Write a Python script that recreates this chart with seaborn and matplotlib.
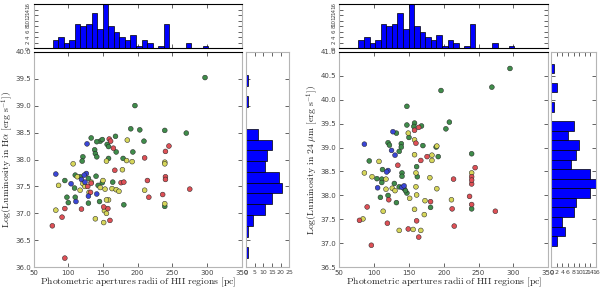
import numpy as np
import pandas as pd
import matplotlib
matplotlib.use("Agg")
import matplotlib.pyplot as plt
import seaborn as sns

sns.set_style("white")
plt.rcParams['mathtext.fontset'] = 'cm'
plt.rcParams['font.family'] = ['DejaVu Sans']

# ---------- data: H-alpha panel ----------
ha_radius = [297, 196, 190, 203, 239, 270, 209, 168, 133, 146, 149, 141, 156, 158, 138, 139, 141, 121, 169, 158,
             193, 179, 120, 110, 117, 140, 129, 95, 143, 164, 149, 109, 98, 110, 100, 145, 129, 180, 239,
             185, 107, 155, 184, 192, 178, 239, 113, 86, 121, 133, 150, 163, 169, 173, 153, 117, 130, 210, 158,
             155, 82, 152, 155, 139, 151, 239, 239, 124, 146,
             245, 240, 159, 165, 210, 167, 240, 240, 214, 176, 180, 275, 216, 236, 133, 132, 157, 151, 95, 119,
             91, 77, 160, 95, 161, 128,
             127, 82, 104, 126, 123, 119, 129, 141, 111, 124]
ha_lum = [39.52, 39.00, 38.57, 38.55, 38.54, 38.49, 38.34, 38.43, 38.40, 38.34, 38.37, 38.33, 38.28, 38.24, 38.18,
          38.11, 38.05, 38.05, 38.14, 38.02, 38.14, 38.02, 37.97, 37.71, 37.68, 37.69, 37.65, 37.61, 37.52, 37.58,
          37.57, 37.47, 37.30, 37.30, 37.20, 37.22, 37.19, 37.16, 37.13,
          38.36, 37.92, 37.97, 37.98, 37.96, 37.81, 37.95, 37.68, 37.52, 37.55, 37.58, 37.61, 37.46, 37.44, 37.41,
          37.45, 37.43, 37.39, 37.43, 37.25, 37.25, 37.06, 37.05, 37.00, 36.90, 36.83, 37.18, 37.92, 37.50, 37.48,
          38.25, 38.15, 38.38, 38.21, 38.03, 37.80, 37.68, 37.63, 37.61, 37.57, 37.58, 37.45, 37.30, 37.35, 37.56,
          37.39, 37.09, 37.12, 37.09, 37.08, 36.93, 36.77, 36.87, 36.17, 38.34, 37.50,
          38.29, 37.73, 37.55, 37.74, 37.71, 37.63, 37.32, 37.36, 37.22, 37.58]
ha_group = ['g'] * 39 + ['y'] * 30 + ['r'] * 26 + ['b'] * 10

# ---------- data: 24 micron panel ----------
ir_radius = [295, 269, 196, 147, 208, 203, 158, 147, 168, 157, 132, 150, 120, 122, 139, 139, 170, 136, 189, 192,
             240, 93, 112, 140, 140, 162, 104, 111, 111, 129, 120, 109, 132, 136, 143, 147, 181, 240, 161, 145,
             149, 158, 158, 190, 183, 183, 107, 86, 97, 117, 117, 160, 180, 160, 190, 151, 173, 211, 240, 113,
             158, 172, 84, 136, 156, 167, 161, 126, 130,
             164, 158, 160, 176, 167, 134, 245, 214, 240, 240, 240, 181, 121, 237, 240, 212, 274, 90, 79, 119,
             161, 149, 164, 215, 96,
             127, 86, 125, 130, 120, 118, 105, 140, 143]
ir_lum = [40.65, 40.26, 40.19, 39.86, 39.53, 39.39, 39.51, 39.47, 39.45, 39.44, 39.30, 39.21, 39.10, 39.05, 39.08,
          39.01, 39.04, 38.92, 39.01, 38.81, 38.87, 38.72, 38.54, 38.47, 38.40, 38.39, 38.35, 38.34, 38.27, 38.25,
          38.00, 37.96, 37.85, 38.18, 38.14, 38.05, 37.75, 37.72, 38.60, 38.10,
          39.30, 39.16, 38.85, 39.03, 38.84, 38.73, 38.71, 38.47, 38.39, 38.34, 38.13, 38.47, 38.37, 38.18, 38.14,
          37.94, 37.89, 37.91, 38.47, 37.67, 37.71, 37.60, 37.51, 37.27, 37.29, 37.27, 38.01, 38.15, 38.10,
          39.42, 39.36, 39.09, 38.81, 38.73, 38.63, 38.58, 38.34, 38.39, 38.24, 38.32, 37.87, 37.91, 37.98, 37.81,
          37.72, 37.67, 37.76, 37.48, 37.42, 37.47, 37.30, 37.13, 37.36, 36.96,
          39.33, 39.07, 38.94, 38.84, 38.52, 38.49, 38.16, 38.17, 38.20]
ir_group = ['g'] * 40 + ['y'] * 29 + ['r'] * 25 + ['b'] * 9

# ---------- histogram counts ----------
radius_bin_start, radius_bin_width = 77.5, 8.0
radius_counts = [3, 4, 2, 3, 9, 8, 9, 13, 7, 16, 8, 6, 4, 3, 5, 1, 3, 2, 0, 1, 9, 0, 0, 0, 2, 0, 0, 1]

ha_bin_start, ha_bin_width = 36.17, 0.2
ha_counts = [1, 0, 1, 4, 11, 15, 21, 19, 11, 12, 15, 7, 0, 0, 1, 0, 1]

ir_bin_start, ir_bin_width = 36.95, 0.2
ir_counts = [2, 5, 4, 8, 9, 14, 16, 14, 7, 9, 10, 6, 8, 0, 1, 0, 2, 0, 1]

palette = {'g': '#3f8c4a', 'y': '#d6d65a', 'r': '#de5056', 'b': '#3a46d6'}
GRAY = '#b5b5b5'
xlabel = r'$\mathrm{Photometric\ apertures\ radii\ of\ HII\ regions\ [pc]}$'


def style_ax(ax):
    for s in ax.spines.values():
        s.set_color(GRAY)
        s.set_linewidth(0.8)
    ax.tick_params(direction='in', length=3, width=0.5, labelsize=5, labelcolor='#444444',
                   top=True, right=True, bottom=True, left=True, pad=2)


def hist_frame(start, width, counts):
    e = start + width * np.arange(len(counts) + 1)
    df = pd.DataFrame({'center': (e[:-1] + e[1:]) / 2, 'count': np.asarray(counts, dtype=float)})
    return df, list(e)


def panel(x0, sc_w, side_x0, side_w, radius, lum, group, side_start, side_width, side_counts,
          ylim, side_xlim, side_xticks, ylabel):
    y0, h = 0.0783, 0.7434
    ax = fig.add_axes([x0, y0, sc_w, h])
    ax_top = fig.add_axes([x0, 0.8334, sc_w, 0.1517])
    ax_side = fig.add_axes([side_x0, y0, side_w, h])

    df = pd.DataFrame({'radius': radius, 'lum': lum, 'group': group})
    sns.scatterplot(data=df, x='radius', y='lum', hue='group', palette=palette, s=12,
                    edgecolor='#222222', linewidth=0.35, legend=False, ax=ax, zorder=3)
    style_ax(ax)
    ax.spines['top'].set_color('black')
    ax.set_xlim(50, 350)
    ax.set_xticks(np.arange(50, 351, 50))
    yt = np.arange(ylim[0], ylim[1] + 0.01, 0.5)
    ax.set_ylim(*ylim)
    ax.set_yticks(yt)
    ax.set_yticklabels([f'{v:.1f}' for v in yt])
    ax.set_xlabel(xlabel, fontsize=7, labelpad=0)
    ax.set_ylabel(ylabel, fontsize=7)
    ax.yaxis.set_label_coords(-0.09, 0.5)

    tdf, t_edges = hist_frame(radius_bin_start, radius_bin_width, radius_counts)
    sns.histplot(data=tdf, x='center', weights='count', bins=t_edges, ax=ax_top,
                 color='#0000ff', edgecolor='black', linewidth=0.5, alpha=1)
    style_ax(ax_top)
    ax_top.spines['top'].set_color('black')
    ax_top.spines['bottom'].set_color('black')
    ax_top.set_xlim(50, 350)
    ax_top.set_xticks(np.arange(50, 351, 50))
    ax_top.set_xticklabels([])
    ax_top.set_ylim(0, 16)
    ax_top.set_yticks(np.arange(0, 17, 2))
    ax_top.tick_params(axis='y', labelrotation=90, labelsize=4)
    ax_top.set_xlabel('')
    ax_top.set_ylabel('')

    sdf, s_edges = hist_frame(side_start, side_width, side_counts)
    sns.histplot(data=sdf, y='center', weights='count', bins=s_edges, ax=ax_side,
                 color='#0000ff', edgecolor='black', linewidth=0.5, alpha=1)
    style_ax(ax_side)
    ax_side.set_ylim(*ylim)
    ax_side.set_yticks(yt)
    ax_side.set_yticklabels([])
    ax_side.set_xlim(*side_xlim)
    ax_side.set_xticks(side_xticks)
    ax_side.tick_params(axis='x', labelsize=4.5)
    ax_side.set_xlabel('')
    ax_side.set_ylabel('')


fig = plt.figure(figsize=(6, 2.9), dpi=100)

panel(0.056, 0.347, 0.41, 0.0722, ha_radius, ha_lum, ha_group, ha_bin_start, ha_bin_width, ha_counts,
      (36.0, 40.0), (0, 25), np.arange(0, 26, 5),
      r'$\mathrm{Log(Luminosity\ in\ H\alpha\ [erg\ s^{-1}])}$')
panel(0.5655, 0.3483, 0.9188, 0.0745, ir_radius, ir_lum, ir_group, ir_bin_start, ir_bin_width, ir_counts,
      (36.5, 41.0), (0, 16), np.arange(0, 17, 2),
      r'$\mathrm{Log(Luminosity\ in\ 24\ \mu m\ [erg\ s^{-1}])}$')

fig.savefig('out.png', dpi=100)
